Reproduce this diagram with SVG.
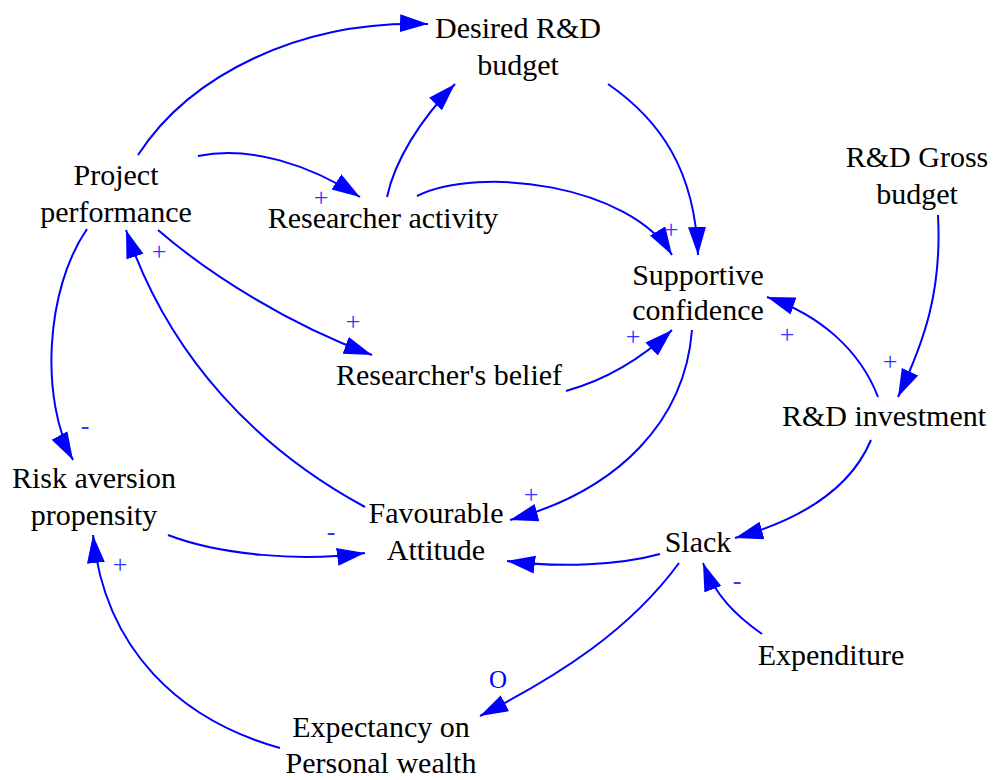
<svg xmlns="http://www.w3.org/2000/svg" width="1007" height="780" viewBox="0 0 1007 780">
<style>
.n{font-family:"Liberation Serif","Times New Roman",serif;font-size:30px;fill:#000;text-anchor:middle}
.c{fill:none;stroke:#0000ff;stroke-width:2;marker-end:url(#ah)}
.p{font-family:"Liberation Serif","Times New Roman",serif;font-size:26px;fill:#3333ff;text-anchor:middle}
.o{font-family:"Liberation Serif","Times New Roman",serif;font-size:25px;fill:#0000ff;text-anchor:middle}
</style>
<defs>
<marker id="ah" markerUnits="userSpaceOnUse" markerWidth="30" markerHeight="20" refX="28" refY="9" orient="auto">
<path d="M0,0 L28,9 L0,18 z" fill="#0000ff"/>
</marker>
</defs>
<rect width="1007" height="780" fill="#fff"/>
<g id="connectors">
<path class="c" d="M138,155 C190,75 300,20 428,24"/>
<path class="c" d="M198,156 C250,145 310,165 360,197"/>
<path class="c" d="M387,197 C395,160 420,120 455,84"/>
<path class="c" d="M417,196 C480,165 630,185 672,255"/>
<path class="c" d="M608,84 C660,120 695,170 698,255"/>
<path class="c" d="M938,215 C942,290 925,340 898,397"/>
<path class="c" d="M878,397 C860,350 820,315 767,297"/>
<path class="c" d="M566,391 C605,380 640,360 672,330"/>
<path class="c" d="M158,230 C210,275 290,325 372,355"/>
<path class="c" d="M87,229 C45,290 40,400 73,460"/>
<path class="c" d="M365,507 C260,450 170,360 126,230"/>
<path class="c" d="M692,330 C685,420 620,490 510,520"/>
<path class="c" d="M168,535 C220,555 300,562 365,553"/>
<path class="c" d="M660,554 C620,565 560,568 507,561"/>
<path class="c" d="M871,440 C850,490 800,520 735,538"/>
<path class="c" d="M762,634 C735,615 715,595 703,563"/>
<path class="c" d="M679,563 C630,630 560,675 480,716"/>
<path class="c" d="M280,748 C180,720 105,650 93,535"/>
<text class="p" x="321" y="206">+</text>
<text class="p" x="671" y="238">+</text>
<text class="p" x="890" y="370">+</text>
<text class="p" x="787" y="343">+</text>
<text class="p" x="633" y="345">+</text>
<text class="p" x="353" y="330">+</text>
<text class="p" x="85" y="434">-</text>
<text class="p" x="159" y="260">+</text>
<text class="p" x="531" y="503">+</text>
<text class="p" x="331" y="540">-</text>
<text class="p" x="737" y="589">-</text>
<text class="p" x="120" y="573">+</text>
<text class="o" x="498" y="688">O</text>
</g>
<g id="desired-rd-budget"><text class="n" x="518" y="38">Desired R&amp;D</text><text class="n" x="518" y="75">budget</text></g>
<g id="project-performance"><text class="n" x="116" y="185">Project</text><text class="n" x="116" y="222">performance</text></g>
<g id="researcher-activity"><text class="n" x="383" y="228">Researcher activity</text></g>
<g id="rd-gross-budget"><text class="n" x="917" y="167">R&amp;D Gross</text><text class="n" x="917" y="204">budget</text></g>
<g id="supportive-confidence"><text class="n" x="698" y="285">Supportive</text><text class="n" x="698" y="320">confidence</text></g>
<g id="researchers-belief"><text class="n" x="449" y="385">Researcher's belief</text></g>
<g id="rd-investment"><text class="n" x="884" y="426">R&amp;D investment</text></g>
<g id="risk-aversion"><text class="n" x="94" y="488">Risk aversion</text><text class="n" x="94" y="525">propensity</text></g>
<g id="favourable-attitude"><text class="n" x="436" y="523">Favourable</text><text class="n" x="436" y="560">Attitude</text></g>
<g id="slack"><text class="n" x="698" y="552">Slack</text></g>
<g id="expenditure"><text class="n" x="831" y="665">Expenditure</text></g>
<g id="expectancy"><text class="n" x="381" y="737">Expectancy on</text><text class="n" x="381" y="773">Personal wealth</text></g>
</svg>
